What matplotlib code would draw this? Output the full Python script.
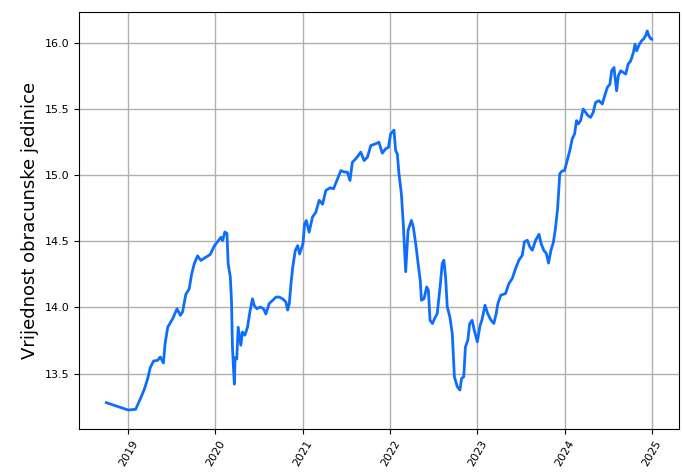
#!/usr/bin/env python3
"""Vrijednost obracunske jedinice - linijski graf"""

import pandas as pd
import matplotlib
matplotlib.use("Agg")
import matplotlib.pyplot as plt
import matplotlib.dates as mdates

# datumi i vrijednosti (ocitano s grafa)
dates = [
    "2018-10-01", "2019-01-01", "2019-02-01", "2019-02-23", "2019-03-09", "2019-03-23",
    "2019-04-03", "2019-04-17", "2019-05-04", "2019-05-15", "2019-05-28", "2019-06-04",
    "2019-06-15", "2019-07-06", "2019-07-24", "2019-08-07", "2019-08-16", "2019-08-30",
    "2019-09-13", "2019-09-23", "2019-10-04", "2019-10-18", "2019-11-01", "2019-11-22",
    "2019-12-10", "2019-12-27", "2020-01-13", "2020-01-24", "2020-01-31", "2020-02-09",
    "2020-02-18", "2020-02-23", "2020-03-03", "2020-03-08", "2020-03-12", "2020-03-16",
    "2020-03-20", "2020-03-23", "2020-03-30", "2020-04-05", "2020-04-11", "2020-04-16",
    "2020-04-23", "2020-05-03", "2020-05-14", "2020-05-25", "2020-06-04", "2020-06-11",
    "2020-06-22", "2020-07-06", "2020-07-20", "2020-07-30", "2020-08-13", "2020-08-27",
    "2020-09-10", "2020-09-24", "2020-10-08", "2020-10-22", "2020-10-29", "2020-11-05",
    "2020-11-12", "2020-11-19", "2020-11-30", "2020-12-10", "2020-12-18", "2021-01-01",
    "2021-01-08", "2021-01-15", "2021-01-27", "2021-02-10", "2021-02-24", "2021-03-10",
    "2021-03-24", "2021-04-07", "2021-04-25", "2021-05-09", "2021-05-26", "2021-06-09",
    "2021-06-23", "2021-07-06", "2021-07-17", "2021-07-27", "2021-08-10", "2021-08-31",
    "2021-09-14", "2021-09-28", "2021-10-12", "2021-11-01", "2021-11-15", "2021-11-29",
    "2021-12-13", "2021-12-25", "2022-01-03", "2022-01-17", "2022-01-24", "2022-01-31",
    "2022-02-07", "2022-02-17", "2022-02-25", "2022-03-03", "2022-03-07", "2022-03-17",
    "2022-03-31", "2022-04-08", "2022-04-18", "2022-04-28", "2022-05-07", "2022-05-12",
    "2022-05-23", "2022-06-03", "2022-06-10", "2022-06-17", "2022-06-27", "2022-07-06",
    "2022-07-17", "2022-07-29", "2022-08-07", "2022-08-14", "2022-08-21", "2022-08-28",
    "2022-09-08", "2022-09-18", "2022-09-27", "2022-10-09", "2022-10-20", "2022-10-27",
    "2022-11-05", "2022-11-12", "2022-11-22", "2022-11-30", "2022-12-10", "2022-12-19",
    "2023-01-01", "2023-01-12", "2023-01-21", "2023-02-02", "2023-02-14", "2023-02-27",
    "2023-03-11", "2023-03-21", "2023-03-28", "2023-04-09", "2023-04-29", "2023-05-13",
    "2023-05-27", "2023-06-10", "2023-06-24", "2023-07-08", "2023-07-17", "2023-07-29",
    "2023-08-09", "2023-08-19", "2023-09-02", "2023-09-16", "2023-09-25", "2023-10-06",
    "2023-10-17", "2023-10-26", "2023-11-05", "2023-11-15", "2023-11-24", "2023-12-03",
    "2023-12-12", "2023-12-21", "2024-01-01", "2024-01-12", "2024-01-23", "2024-02-02",
    "2024-02-12", "2024-02-20", "2024-02-27", "2024-03-08", "2024-03-19", "2024-03-29",
    "2024-04-08", "2024-04-19", "2024-04-30", "2024-05-10", "2024-05-24", "2024-06-07",
    "2024-06-17", "2024-06-28", "2024-07-09", "2024-07-16", "2024-07-26", "2024-07-31",
    "2024-08-06", "2024-08-13", "2024-08-23", "2024-09-03", "2024-09-13", "2024-09-23",
    "2024-10-04", "2024-10-15", "2024-10-22", "2024-10-29", "2024-11-08", "2024-11-18",
    "2024-11-26", "2024-12-05", "2024-12-12", "2024-12-19", "2024-12-28", "2024-12-31",
]
values = [
    13.28, 13.224, 13.23, 13.32, 13.38, 13.46,
    13.545, 13.595, 13.60, 13.625, 13.58, 13.725,
    13.85, 13.915, 13.99, 13.94, 13.965, 14.10,
    14.14, 14.25, 14.33, 14.39, 14.355, 14.38,
    14.40, 14.465, 14.505, 14.53, 14.505, 14.57,
    14.56, 14.33, 14.23, 14.05, 13.70, 13.55,
    13.42, 13.62, 13.61, 13.85, 13.776, 13.714,
    13.814, 13.79, 13.85, 13.977, 14.065, 14.015,
    13.99, 14.003, 13.99, 13.95, 14.03, 14.053,
    14.078, 14.078, 14.065, 14.04, 13.98, 14.03,
    14.18, 14.30, 14.43, 14.467, 14.404, 14.48,
    14.63, 14.657, 14.569, 14.683, 14.72, 14.81,
    14.78, 14.885, 14.904, 14.897, 14.972, 15.035,
    15.023, 15.023, 14.96, 15.098, 15.123, 15.174,
    15.11, 15.136, 15.224, 15.237, 15.249, 15.166,
    15.199, 15.21, 15.312, 15.34, 15.186, 15.161,
    15.01, 14.86, 14.633, 14.406, 14.27, 14.582,
    14.658, 14.608, 14.482, 14.331, 14.205, 14.054,
    14.067, 14.155, 14.13, 13.903, 13.878, 13.916,
    13.953, 14.155, 14.331, 14.356, 14.23, 14.004,
    13.928, 13.803, 13.475, 13.40, 13.375, 13.463,
    13.475, 13.70, 13.752, 13.878, 13.903, 13.828,
    13.74, 13.86, 13.91, 14.017, 13.95, 13.904,
    13.879, 13.954, 14.03, 14.092, 14.105, 14.18,
    14.218, 14.294, 14.357, 14.394, 14.495, 14.508,
    14.457, 14.432, 14.508, 14.553, 14.482, 14.432,
    14.407, 14.335, 14.432, 14.49, 14.60, 14.75,
    15.01, 15.03, 15.035, 15.11, 15.186, 15.274,
    15.312, 15.412, 15.387, 15.412, 15.50, 15.475,
    15.45, 15.437, 15.475, 15.55, 15.563, 15.538,
    15.60, 15.663, 15.688, 15.789, 15.814, 15.726,
    15.638, 15.751, 15.789, 15.776, 15.764, 15.839,
    15.864, 15.927, 15.99, 15.94, 15.985, 16.015,
    16.028, 16.053, 16.09, 16.053, 16.028, 16.028,
]


def generate_chart():
    x = pd.to_datetime(dates)

    fig = plt.figure(figsize=(6.83, 4.73), dpi=100)
    ax = fig.add_axes([0.1157, 0.093, 0.8785, 0.8816])

    ax.plot(x, values, color="#0d6efd", linewidth=2)

    ax.set_ylabel("Vrijednost obracunske jedinice", fontsize=13)
    ax.xaxis.set_major_locator(mdates.YearLocator())
    ax.xaxis.set_major_formatter(mdates.DateFormatter("%Y"))
    ax.tick_params(axis="both", labelsize=8)
    plt.setp(ax.get_xticklabels(), rotation=60)
    ax.grid(True, color="#b0b0b0", linewidth=1)
    ax.set_axisbelow(True)

    fig.savefig("out.png", dpi=100)
    plt.close(fig)


if __name__ == "__main__":
    generate_chart()
